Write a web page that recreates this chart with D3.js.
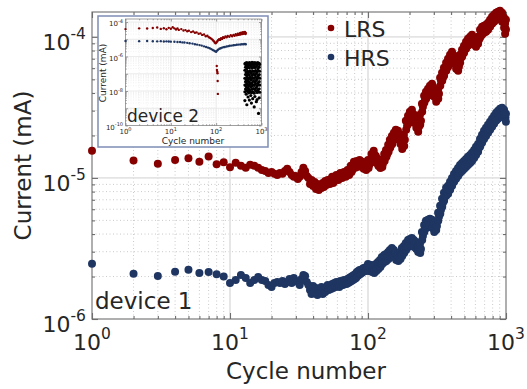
<!DOCTYPE html>
<html>
<head>
<meta charset="utf-8">
<script src="https://cdn.jsdelivr.net/npm/d3@7"></script>
<style>
  body { margin: 0; background: #fff; }
  text { font-family: "DejaVu Sans", sans-serif; fill: #262626; }
</style>
</head>
<body>
<div id="chart"></div>
<script>
// device 1, low resistance state: [cycle, current (mA)]
var lrsPoints = [
  [1,1.56e-5],[2,1.33e-5],[3,1.26e-5],[4,1.34e-5],[5,1.38e-5],[6,1.30e-5],[7,1.42e-5],[8,1.25e-5],[9,1.29e-5],[10,1.19e-5],
  [11,1.28e-5],[12,1.22e-5],[13,1.18e-5],[14,1.24e-5],[15,1.22e-5],[16,1.18e-5],[17,1.14e-5],[18,1.12e-5],[19,1.085e-5],[20,1.10e-5],
  [21,1.07e-5],[22,1.05e-5],[23,1.085e-5],[24,1.07e-5],[25,1.12e-5],[26,1.16e-5],[27,1.10e-5],[28,1.05e-5],[29,1.02e-5],[30,1.03e-5],
  [31,9.84e-6],[32,1.02e-5],[33,1.10e-5],[34,1.18e-5],[35,1.12e-5],[36,1.03e-5],[37,1.00e-5],[38,9.07e-6],[39,9.68e-6],[40,8.78e-6],
  [41,9.37e-6],[42,8.36e-6],[43,9.07e-6],[44,8.22e-6],[45,8.92e-6],[46,8.49e-6],[47,9.22e-6],[48,8.63e-6],[49,9.52e-6],[50,8.92e-6],
  [51,9.68e-6],[52,9.37e-6],[53,9.07e-6],[54,9.84e-6],[55,1.02e-5],[56,9.22e-6],[57,9.52e-6],[58,1.00e-5],[59,1.05e-5],[60,1.03e-5],
  [61,9.68e-6],[62,1.00e-5],[63,1.085e-5],[64,1.05e-5],[65,1.00e-5],[66,1.07e-5],[67,1.10e-5],[68,1.07e-5],[69,1.02e-5],[70,1.085e-5],
  [71,1.14e-5],[72,1.10e-5],[73,1.05e-5],[74,1.16e-5],[75,1.22e-5],[76,1.10e-5],[77,1.14e-5],[78,1.22e-5],[79,1.30e-5],[80,1.26e-5],
  [81,1.18e-5],[82,1.24e-5],[83,1.32e-5],[84,1.28e-5],[85,1.20e-5],[86,1.26e-5],[87,1.34e-5],[88,1.28e-5],[89,1.22e-5],[90,1.28e-5],
  [91,1.30e-5],[92,1.24e-5],[93,1.16e-5],[94,1.20e-5],[95,1.24e-5],[96,1.22e-5],[97,1.14e-5],[98,1.20e-5],[99,1.26e-5],
  [100,1.342e-5],[101,1.178e-5],[102,1.237e-5],[106,1.480e-5],[107,1.299e-5],[108,1.410e-5],
  [110,1.555e-5],[111,1.387e-5],[112,1.456e-5],[114,1.433e-5],[115,1.278e-5],[116,1.364e-5],
  [118,1.364e-5],[119,1.217e-5],[120,1.278e-5],[122,1.299e-5],[123,1.178e-5],[124,1.257e-5],
  [126,1.342e-5],[127,1.197e-5],[128,1.257e-5],[131,1.480e-5],[132,1.320e-5],[133,1.387e-5],
  [135,1.580e-5],[136,1.410e-5],[138,1.480e-5],[140,1.715e-5],[141,1.530e-5],[142,1.633e-5],
  [144,1.861e-5],[145,1.633e-5],[147,1.715e-5],[149,1.986e-5],[150,1.743e-5],[152,1.891e-5],
  [154,2.086e-5],[155,1.861e-5],[157,1.954e-5],[159,2.191e-5],[160,1.954e-5],[162,2.052e-5],
  [165,2.156e-5],[166,1.923e-5],[168,2.019e-5],[171,1.954e-5],[172,1.743e-5],[174,1.831e-5],
  [176,1.831e-5],[177,1.606e-5],[179,1.687e-5],[182,2.019e-5],[183,1.687e-5],[185,1.861e-5],
  [188,2.538e-5],[189,2.191e-5],[192,2.339e-5],[195,2.755e-5],[196,2.417e-5],[198,2.623e-5],
  [201,2.941e-5],[202,2.580e-5],[205,2.755e-5],[208,3.038e-5],[209,2.710e-5],[212,2.846e-5],
  [215,2.800e-5],[216,2.457e-5],[219,2.666e-5],[223,2.580e-5],[224,2.264e-5],[227,2.378e-5],
  [230,2.417e-5],[231,2.121e-5],[234,2.301e-5],[238,2.800e-5],[239,2.378e-5],[242,2.538e-5],
  [246,3.352e-5],[247,2.941e-5],[250,3.191e-5],[255,3.819e-5],[256,3.406e-5],[259,3.578e-5],
  [263,4.077e-5],[264,3.637e-5],[267,3.882e-5],[272,4.282e-5],[273,3.819e-5],[276,4.011e-5],
  [281,4.497e-5],[282,4.011e-5],[286,4.282e-5],[291,4.647e-5],[292,4.077e-5],[296,4.424e-5],
  [301,4.213e-5],[302,3.757e-5],[306,3.946e-5],[311,3.882e-5],[312,3.463e-5],[316,3.696e-5],
  [322,4.213e-5],[323,3.637e-5],[327,3.946e-5],[333,5.126e-5],[334,4.497e-5],[338,4.880e-5],
  [344,5.562e-5],[345,4.880e-5],[349,5.126e-5],[355,6.036e-5],[356,5.296e-5],[361,5.747e-5],
  [368,6.549e-5],[369,5.747e-5],[374,6.036e-5],[380,6.992e-5],[381,6.135e-5],[386,6.657e-5],
  [393,7.464e-5],[394,6.657e-5],[399,6.992e-5],[406,7.839e-5],[407,6.992e-5],[413,7.464e-5],
  [420,7.343e-5],[421,6.443e-5],[427,6.878e-5],[434,6.657e-5],[435,5.938e-5],[441,6.236e-5],
  [449,6.443e-5],[450,5.747e-5],[456,6.135e-5],[464,7.464e-5],[465,6.549e-5],[472,7.107e-5],
  [480,8.099e-5],[481,7.224e-5],[488,7.587e-5],[496,8.646e-5],[497,7.712e-5],[504,8.233e-5],
  [513,9.230e-5],[514,8.233e-5],[521,8.789e-5],[530,9.693e-5],[531,8.646e-5],[539,9.080e-5],
  [549,1.000e-4],[550,8.933e-5],[558,9.536e-5],[567,1.033e-4],[568,9.230e-5],[577,9.853e-5],
  [587,9.853e-5],[588,8.789e-5],[596,9.230e-5],[606,9.536e-5],[607,8.506e-5],[616,9.080e-5],
  [627,1.000e-4],[628,8.933e-5],[637,9.536e-5],[648,1.121e-4],[649,9.853e-5],[659,1.050e-4],
  [670,1.178e-4],[671,1.033e-4],[681,1.121e-4],[693,1.197e-4],[694,1.067e-4],[704,1.140e-4],
  [716,1.217e-4],[717,1.085e-4],[728,1.159e-4],[741,1.257e-4],[742,1.121e-4],[753,1.197e-4],
  [766,1.320e-4],[767,1.178e-4],[779,1.237e-4],[792,1.387e-4],[793,1.237e-4],[805,1.320e-4],
  [819,1.433e-4],[820,1.278e-4],[833,1.364e-4],[847,1.480e-4],[848,1.320e-4],[861,1.387e-4],
  [875,1.505e-4],[876,1.342e-4],[890,1.433e-4],[905,1.530e-4],[906,1.364e-4],[920,1.456e-4],
  [936,1.480e-4],[937,1.278e-4],[952,1.387e-4],[968,1.364e-4],[969,1.159e-4],[976,1.257e-4],
  [984,1.237e-4],[985,1.050e-4],[992,1.140e-4],[999,1.121e-4],[1000,1.320e-4]
];

// device 1, high resistance state
var hrsPoints = [
  [1,2.46e-6],[2,2.09e-6],[3,2.02e-6],[4,2.16e-6],[5,2.23e-6],[6,2.12e-6],[7,2.15e-6],[8,2.08e-6],[9,2.00e-6],[10,1.80e-6],
  [11,1.891e-6],[12,2.052e-6],[13,1.954e-6],[14,1.801e-6],[15,1.891e-6],[16,1.986e-6],[17,1.891e-6],[18,1.861e-6],[19,1.743e-6],[20,1.687e-6],
  [21,1.801e-6],[22,1.831e-6],[23,1.801e-6],[24,1.861e-6],[25,1.772e-6],[26,1.831e-6],[27,1.923e-6],[28,1.801e-6],[29,1.954e-6],[30,1.861e-6],
  [31,1.831e-6],[32,1.743e-6],[33,1.923e-6],[34,2.052e-6],[35,2.019e-6],[36,1.831e-6],[37,1.743e-6],[38,1.606e-6],[39,1.505e-6],[40,1.715e-6],
  [41,1.555e-6],[42,1.660e-6],[43,1.480e-6],[44,1.633e-6],[45,1.530e-6],[46,1.687e-6],[47,1.505e-6],[48,1.606e-6],[49,1.555e-6],[50,1.687e-6],
  [51,1.743e-6],[52,1.606e-6],[53,1.715e-6],[54,1.633e-6],[55,1.772e-6],[56,1.660e-6],[57,1.801e-6],[58,1.687e-6],[59,1.831e-6],[60,1.715e-6],
  [61,1.801e-6],[62,1.687e-6],[63,1.861e-6],[64,1.743e-6],[65,1.831e-6],[66,1.743e-6],[67,1.891e-6],[68,1.772e-6],[69,1.861e-6],[70,1.772e-6],
  [71,1.923e-6],[72,1.801e-6],[73,1.954e-6],[74,1.831e-6],[75,1.986e-6],[76,1.861e-6],[77,2.019e-6],[78,1.891e-6],[79,2.052e-6],[80,1.923e-6],
  [81,2.086e-6],[82,1.954e-6],[83,2.156e-6],[84,2.019e-6],[85,2.191e-6],[86,2.052e-6],[87,2.227e-6],[88,2.086e-6],[89,2.227e-6],[90,2.121e-6],
  [91,2.264e-6],[92,2.156e-6],[93,2.301e-6],[94,2.191e-6],[95,2.301e-6],[96,2.191e-6],[97,2.339e-6],[98,2.227e-6],[99,2.378e-6],
  [100,2.457e-6],[101,2.191e-6],[102,2.339e-6],[106,2.417e-6],[107,2.156e-6],[108,2.301e-6],
  [110,2.378e-6],[111,2.121e-6],[112,2.227e-6],[114,2.457e-6],[115,2.191e-6],[116,2.301e-6],
  [118,2.538e-6],[119,2.264e-6],[120,2.417e-6],[122,2.623e-6],[123,2.339e-6],[124,2.457e-6],
  [126,2.755e-6],[127,2.457e-6],[128,2.580e-6],[131,2.846e-6],[132,2.538e-6],[133,2.710e-6],
  [135,2.893e-6],[136,2.580e-6],[138,2.755e-6],[140,2.989e-6],[141,2.666e-6],[142,2.800e-6],
  [144,3.089e-6],[145,2.755e-6],[147,2.941e-6],[149,3.191e-6],[150,2.846e-6],[152,2.989e-6],
  [154,3.089e-6],[155,2.755e-6],[157,2.893e-6],[159,2.941e-6],[160,2.623e-6],[162,2.800e-6],
  [165,2.893e-6],[166,2.580e-6],[168,2.710e-6],[171,2.989e-6],[172,2.666e-6],[174,2.846e-6],
  [176,3.191e-6],[177,2.800e-6],[179,2.989e-6],[182,3.297e-6],[183,2.941e-6],[185,3.139e-6],
  [188,3.463e-6],[189,3.089e-6],[192,3.244e-6],[195,3.637e-6],[196,3.244e-6],[198,3.463e-6],
  [201,3.696e-6],[202,3.297e-6],[205,3.520e-6],[208,3.757e-6],[209,3.352e-6],[212,3.578e-6],
  [215,3.637e-6],[216,3.244e-6],[219,3.406e-6],[223,3.520e-6],[224,3.139e-6],[227,3.297e-6],
  [230,3.352e-6],[231,2.989e-6],[234,3.191e-6],[238,3.406e-6],[239,2.941e-6],[242,3.139e-6],
  [246,4.144e-6],[247,3.637e-6],[250,3.882e-6],[255,4.647e-6],[256,4.144e-6],[259,4.353e-6],
  [263,4.961e-6],[264,4.424e-6],[267,4.723e-6],[272,5.043e-6],[273,4.497e-6],[276,4.801e-6],
  [281,5.126e-6],[282,4.571e-6],[286,4.880e-6],[291,5.043e-6],[292,4.424e-6],[296,4.723e-6],
  [301,4.723e-6],[302,4.144e-6],[306,4.424e-6],[311,4.880e-6],[312,4.282e-6],[316,4.571e-6],
  [322,5.654e-6],[323,4.961e-6],[327,5.296e-6],[333,6.339e-6],[334,5.562e-6],[338,5.938e-6],
  [344,7.107e-6],[345,6.236e-6],[349,6.657e-6],[355,7.839e-6],[356,6.878e-6],[361,7.343e-6],
  [368,8.506e-6],[369,7.464e-6],[374,7.968e-6],[380,8.789e-6],[381,7.712e-6],[386,8.233e-6],
  [393,9.382e-6],[394,8.233e-6],[399,8.789e-6],[406,1.000e-5],[407,8.789e-6],[413,9.382e-6],
  [420,1.067e-5],[421,9.382e-6],[427,1.000e-5],[434,1.121e-5],[435,9.853e-6],[441,1.050e-5],
  [449,1.178e-5],[450,1.033e-5],[456,1.103e-5],[464,1.237e-5],[465,1.085e-5],[472,1.159e-5],
  [480,1.278e-5],[481,1.121e-5],[488,1.197e-5],[496,1.320e-5],[497,1.159e-5],[504,1.237e-5],
  [513,1.364e-5],[514,1.197e-5],[521,1.278e-5],[530,1.410e-5],[531,1.237e-5],[539,1.320e-5],
  [549,1.456e-5],[550,1.278e-5],[558,1.364e-5],[567,1.505e-5],[568,1.320e-5],[577,1.410e-5],
  [587,1.580e-5],[588,1.387e-5],[596,1.480e-5],[606,1.660e-5],[607,1.456e-5],[616,1.555e-5],
  [627,1.743e-5],[628,1.530e-5],[637,1.633e-5],[648,1.891e-5],[649,1.660e-5],[659,1.772e-5],
  [670,2.019e-5],[671,1.772e-5],[681,1.891e-5],[693,2.156e-5],[694,1.891e-5],[704,2.019e-5],
  [716,2.264e-5],[717,1.986e-5],[728,2.121e-5],[741,2.378e-5],[742,2.086e-5],[753,2.227e-5],
  [766,2.497e-5],[767,2.191e-5],[779,2.339e-5],[792,2.623e-5],[793,2.301e-5],[805,2.457e-5],
  [819,2.755e-5],[820,2.417e-5],[833,2.580e-5],[847,2.893e-5],[848,2.538e-5],[861,2.710e-5],
  [875,2.989e-5],[876,2.623e-5],[890,2.800e-5],[905,3.089e-5],[906,2.710e-5],[920,2.893e-5],
  [936,3.139e-5],[937,2.755e-5],[952,2.941e-5],[968,3.038e-5],[969,2.666e-5],[976,2.846e-5],
  [992,2.666e-5],[999,2.497e-5],[1000,2.846e-5]
];

// device 2 (inset)
var dev2Lrs = [
  [1,3.9e-5],[2,4.3e-5],[3,4.2e-5],[4,4.5e-5],[5,4.8e-5],[6,4.0e-5],[7,4.4e-5],[8,3.8e-5],[9,4.6e-5],[10,4.1e-5],
  [11,5.0e-5],[12,4.3e-5],[13,3.7e-5],[14,4.2e-5],[15,3.5e-5],[17,3.9e-5],[19,3.2e-5],[21,3.4e-5],[23,2.9e-5],[25,3.1e-5],
  [28,2.6e-5],[31,2.8e-5],[34,2.4e-5],[37,2.5e-5],[41,2.1e-5],[45,2.2e-5],[49,1.8e-5],[54,1.9e-5],[59,1.5e-5],[64,1.6e-5],
  [69,1.3e-5],[74,1.2e-5],[79,1.05e-5],[84,9.0e-6],[89,7.8e-6],[93,6.6e-6],[97,5.9e-6],[101,6.4e-6],[105,7.5e-6],[110,8.8e-6],
  [116,1.0e-5],[122,9.2e-6],[128,1.15e-5],[135,1.05e-5],[142,1.3e-5],[150,1.2e-5],[160,1.45e-5],[170,1.3e-5],[180,1.55e-5],[195,1.4e-5],
  [210,1.7e-5],[225,1.5e-5],[240,1.8e-5],[255,1.6e-5],[270,1.95e-5],[285,1.7e-5],[300,2.1e-5],[310,2.0e-5],[315,1.8e-5],[330,2.2e-5],
  [340,2.3e-5],[345,1.9e-5],[360,2.4e-5],[370,2.2e-5],[375,2.0e-5],[390,2.6e-5],[400,2.3e-5],[405,2.1e-5],[420,2.5e-5],[430,2.7e-5],
  [435,2.2e-5],[445,2.0e-5],[450,2.3e-5],
  [103,2.8e-7],[104,1.66e-7],[106,1.32e-7],[107,1.07e-7],[108,3.8e-8],[109,6.8e-9]
];
var dev2Hrs = [
  [1,7.9e-6],[2,7.8e-6],[3,7.9e-6],[4,7.7e-6],[5,7.6e-6],[6,7.8e-6],[7,7.5e-6],[8,7.6e-6],[9,7.4e-6],[10,7.3e-6],
  [12,7.2e-6],[14,7.0e-6],[16,6.9e-6],[18,6.6e-6],[20,6.5e-6],[23,6.2e-6],[26,5.9e-6],[30,5.6e-6],[34,5.2e-6],[38,4.9e-6],
  [43,4.6e-6],[48,4.3e-6],[54,3.9e-6],[60,3.6e-6],[66,3.3e-6],[72,3.0e-6],[78,2.7e-6],[84,2.4e-6],[90,2.2e-6],[95,2.0e-6],
  [100,1.9e-6],[105,2.2e-6],[110,2.5e-6],[118,2.8e-6],[126,3.0e-6],[135,3.3e-6],[145,3.5e-6],[155,3.6e-6],[170,3.8e-6],[185,4.0e-6],
  [200,4.2e-6],[220,4.3e-6],[240,4.5e-6],[260,4.6e-6],[285,4.8e-6],[310,4.9e-6],[340,5.0e-6],[370,5.1e-6],[400,5.2e-6],[430,5.3e-6],[450,5.2e-6]
];
// device 2 after failure (black cloud)
var dev2Off = [
  [430,3.8e-7],[430,1.6e-7],[430,5.5e-8],[430,2.2e-8],[430,9e-9],[430,2.8e-9],
  [445,4.2e-7],[445,2.4e-7],[445,9e-8],[445,3.5e-8],[445,1.3e-8],
  [460,3.1e-7],[460,1.2e-7],[460,4.6e-8],[460,1.8e-8],[460,6.5e-9],
  [475,4.5e-7],[475,2.0e-7],[475,7.5e-8],[475,2.8e-8],[475,1.1e-8],[475,1.6e-9],
  [490,3.5e-7],[490,1.4e-7],[490,6.0e-8],[490,2.4e-8],[490,9.5e-9],
  [505,4.0e-7],[505,2.6e-7],[505,1.0e-7],[505,4.0e-8],[505,1.5e-8],[505,4.5e-9],
  [520,3.3e-7],[520,1.3e-7],[520,5.2e-8],[520,2.0e-8],[520,7.8e-9],
  [540,4.4e-7],[540,2.2e-7],[540,8.5e-8],[540,3.2e-8],[540,1.2e-8],[540,3.0e-9],
  [560,3.7e-7],[560,1.5e-7],[560,6.2e-8],[560,2.5e-8],[560,1.0e-8],
  [580,4.1e-7],[580,2.8e-7],[580,1.1e-7],[580,4.3e-8],[580,1.7e-8],[580,5.5e-9],
  [600,3.2e-7],[600,1.25e-7],[600,5.0e-8],[600,1.9e-8],[600,8.0e-9],[600,2.0e-9],
  [620,4.6e-7],[620,2.1e-7],[620,8.0e-8],[620,3.0e-8],[620,1.25e-8],
  [640,3.6e-7],[640,1.45e-7],[640,5.8e-8],[640,2.3e-8],[640,9.0e-9],[640,3.6e-9],
  [665,4.3e-7],[665,2.5e-7],[665,9.5e-8],[665,3.7e-8],[665,1.4e-8],
  [690,3.4e-7],[690,1.35e-7],[690,5.4e-8],[690,2.1e-8],[690,7.5e-9],[690,1.2e-9],
  [715,4.5e-7],[715,2.3e-7],[715,8.8e-8],[715,3.4e-8],[715,1.3e-8],[715,4.8e-9],
  [740,3.9e-7],[740,1.55e-7],[740,6.5e-8],[740,2.6e-8],[740,1.05e-8],
  [770,4.2e-7],[770,2.7e-7],[770,1.05e-7],[770,4.1e-8],[770,1.6e-8],[770,2.4e-9],
  [800,3.3e-7],[800,1.3e-7],[800,5.1e-8],[800,2.0e-8],[800,8.2e-9],[800,3.2e-9],
  [830,4.4e-7],[830,2.0e-7],[830,7.8e-8],[830,3.0e-8],[830,1.2e-8],
  [860,3.7e-7],[860,1.5e-7],[860,6.0e-8],[860,2.3e-8],[860,9.2e-9],[860,5.0e-10],
  [890,4.0e-7],[890,2.4e-7],[890,9.0e-8],[890,3.5e-8],[890,1.35e-8],[890,4.0e-9],
  [910,3.5e-7],[910,1.4e-7],[910,5.5e-8],[910,2.2e-8],[910,8.5e-9]
];

var xTickExp = [0, 1, 2, 3];
var yTickExp = [-6, -5, -4];
var insetYTickExp = [-10, -8, -6, -4];
var seriesNames = ["LRS", "HRS"];
var lrsColor = "#860000", hrsColor = "#1f3662";

// sizes
var svgWidth = 527, svgHeight = 389;
var margin = { top: 12, right: 21, bottom: 70, left: 92 };
var chartWidth = svgWidth - margin.left - margin.right;
var chartHeight = svgHeight - margin.top - margin.bottom;

var svg = d3.select("#chart").append("svg")
  .attr("width", svgWidth)
  .attr("height", svgHeight);

var x = d3.scaleLog().domain([1, 1000]).range([margin.left, margin.left + chartWidth]);
var y = d3.scaleLog().domain([1e-6, 1.5e-4]).range([margin.top + chartHeight, margin.top]);

// grid + box with inward ticks, used for the main chart and the inset
function drawFrame(g, xs, ys, o) {
  var xr = xs.range(), yr = ys.range();
  var xAll = xs.ticks(), yAll = ys.ticks().filter(function(d) { return d <= ys.domain()[1]; });
  var isMajor = function(d) { return Math.abs(Math.log10(d) - Math.round(Math.log10(d))) < 1e-9; };
  var xMinor = xAll.filter(function(d) { return !isMajor(d); });
  var yMinor = yAll.filter(function(d) { return !isMajor(d); });
  var xMajor = xAll.filter(isMajor);
  var yMajor = yAll.filter(isMajor);

  var grid = g.append("g");
  grid.selectAll(".xm").data(xMinor).enter().append("line")
    .attr("x1", xs).attr("x2", xs).attr("y1", yr[0]).attr("y2", yr[1])
    .attr("stroke", o.minorColor).attr("stroke-width", o.minorW).attr("stroke-dasharray", o.dash);
  grid.selectAll(".ym").data(yMinor).enter().append("line")
    .attr("y1", ys).attr("y2", ys).attr("x1", xr[0]).attr("x2", xr[1])
    .attr("stroke", o.minorColor).attr("stroke-width", o.minorW).attr("stroke-dasharray", o.dash);
  grid.selectAll(".xM").data(xMajor.slice(1, -1)).enter().append("line")
    .attr("x1", xs).attr("x2", xs).attr("y1", yr[0]).attr("y2", yr[1])
    .attr("stroke", o.majorColor).attr("stroke-width", o.majorW);
  grid.selectAll(".yM").data(yMajor.slice(1)).enter().append("line")
    .attr("y1", ys).attr("y2", ys).attr("x1", xr[0]).attr("x2", xr[1])
    .attr("stroke", o.majorColor).attr("stroke-width", o.majorW);

  var axes = [
    [d3.axisBottom, xs, "translate(0," + yr[0] + ")", xMajor, xMinor],
    [d3.axisTop, xs, "translate(0," + yr[1] + ")", xMajor, xMinor],
    [d3.axisLeft, ys, "translate(" + xr[0] + ",0)", yMajor, yMinor],
    [d3.axisRight, ys, "translate(" + xr[1] + ",0)", yMajor, yMinor]
  ];
  axes.forEach(function(a) {
    [[a[3], o.tick], [a[4], o.tick / 2]].forEach(function(t) {
      var ax = g.append("g").attr("transform", a[2]).attr("color", o.axisColor)
        .call(a[0](a[1]).tickValues(t[0]).tickSize(-t[1]).tickSizeOuter(0).tickFormat(""));
      ax.select(".domain").remove();
      ax.selectAll("line").attr("stroke-width", o.axisW);
    });
  });
  g.append("rect")
    .attr("x", xr[0]).attr("y", yr[1])
    .attr("width", xr[1] - xr[0]).attr("height", yr[0] - yr[1])
    .attr("fill", "none").attr("stroke", o.axisColor).attr("stroke-width", o.axisW);
}

// "10" with a raised exponent
function powLabel(g, px, py, exp, anchor, size, supSize, supDy) {
  var t = g.append("text").attr("x", px).attr("y", py)
    .attr("text-anchor", anchor).attr("font-size", size);
  t.append("tspan").text("10");
  t.append("tspan").attr("font-size", supSize).attr("dy", supDy).text(exp);
}

var chartGroup = svg.append("g");
drawFrame(chartGroup, x, y, {
  minorColor: "#c4c4c4", minorW: 0.9, dash: "1,2.5",
  majorColor: "#e4e4e4", majorW: 1.8,
  axisColor: "#6e6e6e", axisW: 1.1, tick: 6
});

xTickExp.forEach(function(e) {
  powLabel(chartGroup, x(Math.pow(10, e)), 350, e, "middle", 22, 15.5, -11);
});
yTickExp.forEach(function(e) {
  powLabel(chartGroup, 86, y(Math.pow(10, e)) + 13, e, "end", 22, 15.5, -11);
});

chartGroup.append("text")
  .attr("x", 306).attr("y", 379)
  .attr("text-anchor", "middle").attr("font-size", 23)
  .text("Cycle number");
chartGroup.append("text")
  .attr("transform", "translate(31," + (margin.top + chartHeight / 2) + ") rotate(-90)")
  .attr("text-anchor", "middle").attr("font-size", 23)
  .text("Current (mA)");

// data points
chartGroup.append("g").selectAll("circle")
  .data(lrsPoints).enter().append("circle")
  .attr("cx", d => x(d[0])).attr("cy", d => y(d[1]))
  .attr("r", 4).attr("fill", lrsColor);
chartGroup.append("g").selectAll("circle")
  .data(hrsPoints).enter().append("circle")
  .attr("cx", d => x(d[0])).attr("cy", d => y(d[1]))
  .attr("r", 4).attr("fill", hrsColor);

chartGroup.append("text")
  .attr("x", 95).attr("y", 309).attr("font-size", 23)
  .text("device 1");

// legend
var legend = chartGroup.selectAll(".legend")
  .data(seriesNames).enter().append("g")
  .attr("transform", (d, i) => "translate(331," + (28 + i * 29) + ")");
legend.append("circle").attr("r", 3.3)
  .attr("fill", (d, i) => i === 0 ? lrsColor : hrsColor);
legend.append("text").attr("x", 13).attr("y", 8.5).attr("font-size", 22).text(d => d);

// inset: device 2
var inset = svg.append("g");
inset.append("rect")
  .attr("x", 98).attr("y", 16).attr("width", 170).attr("height", 131)
  .attr("fill", "#fff").attr("stroke", "#7d8db5").attr("stroke-width", 1.5);

var ix = d3.scaleLog().domain([1, 1000]).range([125.5, 261.5]);
var iy = d3.scaleLog().domain([1e-10, 1.5e-4]).range([125.5, 19]);

drawFrame(inset, ix, iy, {
  minorColor: "#e2e2e2", minorW: 0.5, dash: "1,1.5",
  majorColor: "#e6e6e6", majorW: 0.8,
  axisColor: "#777", axisW: 0.7, tick: 2.5
});

xTickExp.forEach(function(e) {
  powLabel(inset, ix(Math.pow(10, e)), 134, e, "middle", 7, 5, -3.5);
});
insetYTickExp.forEach(function(e) {
  powLabel(inset, 123, iy(Math.pow(10, e)) + 4, e, "end", 7, 5, -3.5);
});
inset.append("text")
  .attr("x", 193).attr("y", 144)
  .attr("text-anchor", "middle").attr("font-size", 9)
  .text("Cycle number");
inset.append("text")
  .attr("transform", "translate(106,73) rotate(-90)")
  .attr("text-anchor", "middle").attr("font-size", 9)
  .text("Current (mA)");

inset.append("g").selectAll("circle")
  .data(dev2Off).enter().append("circle")
  .attr("cx", d => ix(d[0])).attr("cy", d => iy(d[1]))
  .attr("r", 1.6).attr("fill", "#000");
inset.append("g").selectAll("circle")
  .data(dev2Hrs).enter().append("circle")
  .attr("cx", d => ix(d[0])).attr("cy", d => iy(d[1]))
  .attr("r", 1.2).attr("fill", hrsColor);
inset.append("g").selectAll("circle")
  .data(dev2Lrs).enter().append("circle")
  .attr("cx", d => ix(d[0])).attr("cy", d => iy(d[1]))
  .attr("r", 1.2).attr("fill", lrsColor);

inset.append("text")
  .attr("x", 127).attr("y", 122).attr("font-size", 17)
  .text("device 2");
</script>
</body>
</html>
